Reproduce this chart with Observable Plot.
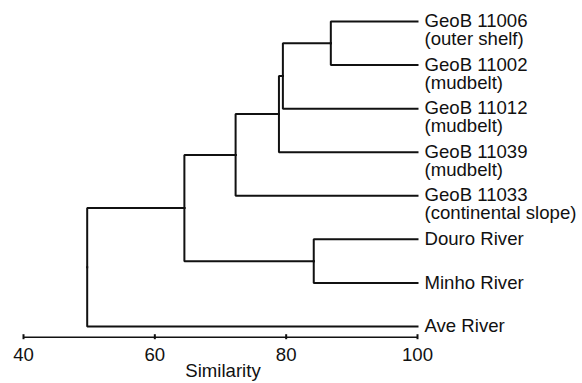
<!DOCTYPE html>
<html><head><meta charset="utf-8">
<script src="https://cdn.jsdelivr.net/npm/d3@7"></script>
<script src="https://cdn.jsdelivr.net/npm/@observablehq/plot@0.6"></script>
<style>html,body{margin:0;padding:0;background:#fff;}</style>
</head><body><div id="chart"></div>
<script>
// Leaves (top to bottom)
const leafNames = ["GeoB 11006", "GeoB 11002", "GeoB 11012", "GeoB 11039", "GeoB 11033", "Douro River", "Minho River", "Ave River"];
const leafNotes = ["(outer shelf)", "(mudbelt)", "(mudbelt)", "(mudbelt)", "(continental slope)", "", "", ""];
const leafSimilarity = 100;
// Merges (cluster joins)
const mergeNames = ["A", "B", "C", "D", "E", "F", "G"];
const mergeLeft = ["GeoB 11006", "A", "B", "C", "Douro River", "D", "F"];
const mergeRight = ["GeoB 11002", "GeoB 11012", "GeoB 11039", "GeoB 11033", "Minho River", "E", "Ave River"];
const mergeSimilarity = [86.8, 79.5, 78.9, 72.3, 84.2, 64.5, 49.7];
// Axis
const xTicks = [40, 60, 80, 100];
const xDomain = [40, 100];
const axisTitle = "Similarity";

const pos = new Map();
const leaves = leafNames.map((name, i) => {
  const p = {name, label: leafNotes[i] ? name + "\n" + leafNotes[i] : name, x: leafSimilarity, y: i};
  pos.set(name, p);
  return p;
});
const links = [];
mergeNames.forEach((n, i) => {
  const a = pos.get(mergeLeft[i]), b = pos.get(mergeRight[i]);
  const p = {x: mergeSimilarity[i], y: (a.y + b.y) / 2};
  pos.set(n, p);
  links.push({x1: p.x, y1: p.y, x2: a.x, y2: a.y});
  links.push({x1: p.x, y1: p.y, x2: b.x, y2: b.y});
});
const yAxisAt = leafNames.length - 1 + 0.245;
const ink = "#111";
const fs = 18.6;

const chart = Plot.plot({
  width: 582, height: 383,
  marginLeft: 23, marginRight: 165, marginTop: 21, marginBottom: 46.3,
  x: {domain: xDomain},
  y: {domain: [0, yAxisAt], reverse: true, axis: null},
  style: {fontFamily: "'Liberation Sans', Arial, Helvetica, sans-serif", fontSize: fs + "px", color: ink, background: "#fff"},
  marks: [
    Plot.link(links, {x1: "x1", y1: "y1", x2: "x2", y2: "y2", curve: "step-before", stroke: ink, strokeWidth: 2, strokeLinecap: "square"}),
    Plot.ruleY([yAxisAt], {y: d => d, x1: xDomain[0], x2: xDomain[1], stroke: ink, strokeWidth: 1.5}),
    Plot.ruleX(xTicks, {x: d => d, y1: yAxisAt, y2: yAxisAt, insetTop: -2.5, insetBottom: -2.5, stroke: ink, strokeWidth: 2}),
    Plot.axisX({ticks: xTicks, tickSize: 0, tickPadding: 10.5, tickFormat: d => d, label: null, fontSize: fs, fill: ink}),
    Plot.text([axisTitle], {x: () => d3.mean(xDomain), frameAnchor: "bottom", lineAnchor: "top", dy: 26.6, dx: 2.5, fontSize: fs, fill: ink}),
    Plot.text(leaves, {x: "x", y: "y", text: "label", textAnchor: "start", lineAnchor: "top", lineHeight: 0.97, dx: 7, dy: -7.2, fontSize: fs, fill: ink})
  ]
});
document.getElementById("chart").appendChild(chart);
</script>
</body></html>
